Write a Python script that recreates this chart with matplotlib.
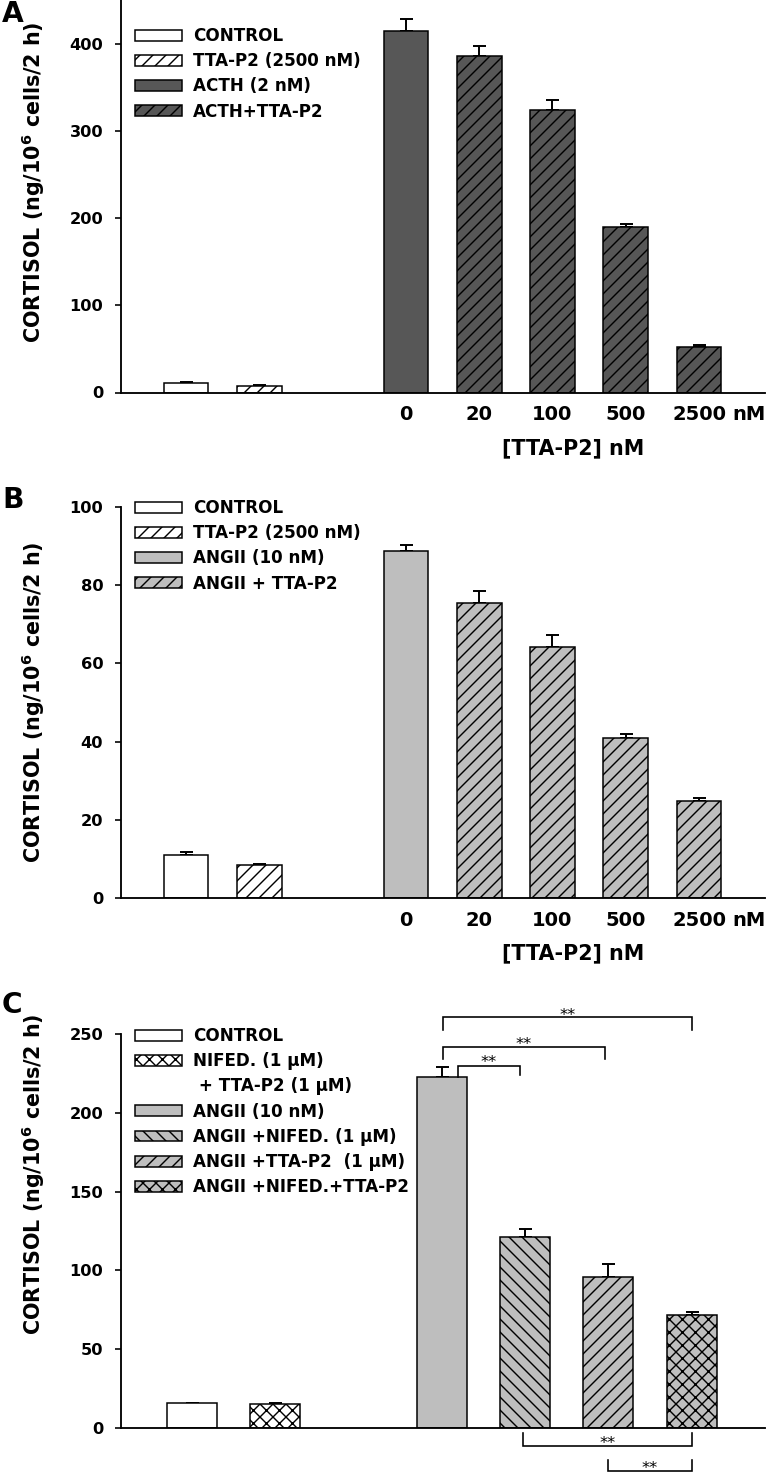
import matplotlib
matplotlib.use("Agg")
import matplotlib.pyplot as plt
from matplotlib.patches import Patch
import numpy as np

plt.rcParams['font.family'] = ['DejaVu Sans']
plt.rcParams['font.weight'] = 'bold'
plt.rcParams['hatch.linewidth'] = 1.3
plt.rcParams['hatch.color'] = 'black'
plt.rcParams['axes.linewidth'] = 1.7

# ---- data ----
doses = ["0", "20", "100", "500", "2500"]

# panel A: ACTH
a_base = [10.6, 7.5]            # CONTROL, TTA-P2 (2500 nM)
a_base_err = [1.0, 0.9]
a_acth = [414.7, 385.3, 324.4, 190.0, 52.0]
a_acth_err = [13.5, 12.0, 11.0, 3.0, 2.0]
a_labels = ["CONTROL", "TTA-P2 (2500 nM)", "ACTH (2 nM)", "ACTH+TTA-P2"]

# panel B: ANGII
b_base = [11.0, 8.4]
b_base_err = [0.8, 0.3]
b_ang = [88.7, 75.4, 64.2, 40.9, 24.7]
b_ang_err = [1.6, 3.2, 3.0, 1.0, 1.0]
b_labels = ["CONTROL", "TTA-P2 (2500 nM)", "ANGII (10 nM)", "ANGII + TTA-P2"]

# panel C: nifedipine / TTA-P2
c_vals = [15.6, 15.2, 222.9, 121.0, 96.0, 71.7]
c_err = [0.3, 0.8, 6.0, 5.0, 8.0, 2.0]
c_labels = ["CONTROL", "NIFED. (1 \u03bcM)", " + TTA-P2 (1 \u03bcM)", "ANGII (10 nM)",
            "ANGII +NIFED. (1 \u03bcM)", "ANGII +TTA-P2  (1 \u03bcM)", "ANGII +NIFED.+TTA-P2"]
# significance pairs (bar index), above and below the bars
c_sig_above = [(2, 3), (2, 4), (2, 5)]
c_sig_below = [(3, 5), (4, 5)]

DARK = '#575757'
LIGHT = '#bebebe'
FWD, BACK, CROSS = '//', '\\\\', 'xx'

W, H, DPI = 769, 1474, 78
fig = plt.figure(figsize=(W / DPI, H / DPI), dpi=DPI)


def make_ax(top_px, bottom_px):
    ax = fig.add_axes([121 / W, 1 - bottom_px / H, 644 / W, (bottom_px - top_px) / H])
    ax.spines['top'].set_visible(False)
    ax.spines['right'].set_visible(False)
    ax.tick_params(axis='y', direction='out', length=5.5, width=1.5, pad=11, labelsize=15)
    ax.tick_params(axis='x', length=0, pad=12, labelsize=18)
    ax.set_ylabel("CORTISOL (ng/10$^\\mathbf{6}$ cells/2 h)", fontsize=19, fontweight='bold')
    return ax


bar_kw = dict(edgecolor='black', linewidth=1.4, zorder=2)
err_kw = dict(fmt='none', ecolor='black', elinewidth=1.8, capsize=6, capthick=1.8, zorder=1)
leg_kw = dict(loc='upper left', bbox_transform=fig.transFigure, frameon=False, borderpad=0,
              borderaxespad=0, prop=dict(size=15.5, weight='bold'), handlelength=2.8,
              handleheight=0.62, handletextpad=0.65, labelspacing=0.43)


def patch(col, hatch=None):
    return Patch(facecolor=col, edgecolor='black', linewidth=1.4, hatch=hatch)


def dose_panel(ax, base, base_err, vals, errs, col, labels, ymax, ystep, leg_top):
    xb = np.array([0, 1])
    xd = np.arange(3, 3 + len(vals))
    w = 0.61
    ax.bar(xb[0], base[0], w, color='white', **bar_kw)
    ax.bar(xb[1], base[1], w, color='white', hatch=FWD, **bar_kw)
    ax.bar(xd[0], vals[0], w, color=col, **bar_kw)
    ax.bar(xd[1:], vals[1:], w, color=col, hatch=FWD, **bar_kw)
    allx = np.concatenate([xb, xd])
    ally = np.concatenate([base, vals])
    alle = np.concatenate([base_err, errs])
    ax.errorbar(allx, ally, yerr=[np.zeros_like(alle), alle], **err_kw)
    ax.set_xlim(-0.887, 7.9)
    ax.set_ylim(0, ymax)
    ax.set_yticks(np.arange(0, ymax + 1, ystep))
    ax.set_xticks(xd)
    ax.set_xticklabels(doses)
    ax.annotate("nM", xy=(xd[-1], 0), xycoords=ax.get_xaxis_transform(),
                xytext=(31, -12), textcoords='offset points', ha='left', va='top', fontsize=18)
    ax.set_xlabel("[TTA-P2] nM", fontsize=19, fontweight='bold')
    ax.xaxis.set_label_coords(0.702, -0.116)
    handles = [patch('white'), patch('white', FWD), patch(col), patch(col, FWD)]
    ax.legend(handles, labels, bbox_to_anchor=(135 / W, 1 - leg_top / H), **leg_kw)


# ---- panel A ----
axA = make_ax(0, 392.5)
dose_panel(axA, a_base, a_base_err, a_acth, a_acth_err, DARK, a_labels, 450, 100, 27)
axA.yaxis.set_label_coords(-0.115, 0.536)

# ---- panel B ----
axB = make_ax(507, 898)
dose_panel(axB, b_base, b_base_err, b_ang, b_ang_err, LIGHT, b_labels, 100, 20, 499)
axB.yaxis.set_label_coords(-0.115, 0.5)

# ---- panel C ----
axC = make_ax(1034, 1428)
xc = np.array([0, 1, 3, 4, 5, 6])
c_face = ['white', 'white', LIGHT, LIGHT, LIGHT, LIGHT]
c_hatch = [None, CROSS, None, BACK, FWD, CROSS]
for x, v, f, h in zip(xc, c_vals, c_face, c_hatch):
    axC.bar(x, v, 0.6, color=f, hatch=h, **bar_kw)
axC.errorbar(xc, c_vals, yerr=[np.zeros(len(c_err)), c_err], **err_kw)
axC.set_xlim(-0.852, 6.88)
axC.set_ylim(0, 250)
axC.set_yticks(np.arange(0, 251, 50))
axC.set_xticks([])
axC.yaxis.set_label_coords(-0.115, 0.645)

blank = Patch(facecolor='none', edgecolor='none')
c_handles = [patch('white'), patch('white', CROSS), blank, patch(LIGHT),
             patch(LIGHT, BACK), patch(LIGHT, FWD), patch(LIGHT, CROSS)]
axC.legend(c_handles, c_labels, bbox_to_anchor=(135 / W, 1 - 1027 / H), **leg_kw)


def bracket(ax, x1, x2, y, y1, y2, ystar):
    ax.plot([x1, x1, x2, x2], [y1, y, y, y2], color='black', lw=1.5, clip_on=False,
            solid_joinstyle='miter')
    ax.annotate("**", xy=((x1 + x2) / 2, ystar), xytext=(0, -8.8), textcoords='offset points',
                ha='center', va='baseline', fontsize=15, fontweight='normal', annotation_clip=False)


# brackets above: heights in data units
above_geo = [(0.19, -0.06, 229.5, 222.9, 224.0, 234.8),
             (0.01, -0.04, 241.8, 234.0, 234.0, 246.8),
             (0.01, 0.0, 260.8, 252.5, 252.5, 264.8)]
for (i, j), (d1, d2, y, y1, y2, ys) in zip(c_sig_above, above_geo):
    bracket(axC, xc[i] + d1, xc[j] + d2, y, y1, y2, ys)

below_geo = [(-0.03, 0.0, -11.4, -3.2, -3.2, -6.8),
             (0.0, 0.0, -27.0, -20.0, -20.0, -22.5)]
for (i, j), (d1, d2, y, y1, y2, ys) in zip(c_sig_below, below_geo):
    bracket(axC, xc[i] + d1, xc[j] + d2, y, y1, y2, ys)

# panel letters
for letter, top in [("A", 0), ("B", 486), ("C", 991)]:
    fig.text(2 / W, 1 - top / H, letter, ha='left', va='top', fontsize=26, fontweight='bold')

fig.savefig("out.png", dpi=DPI)
